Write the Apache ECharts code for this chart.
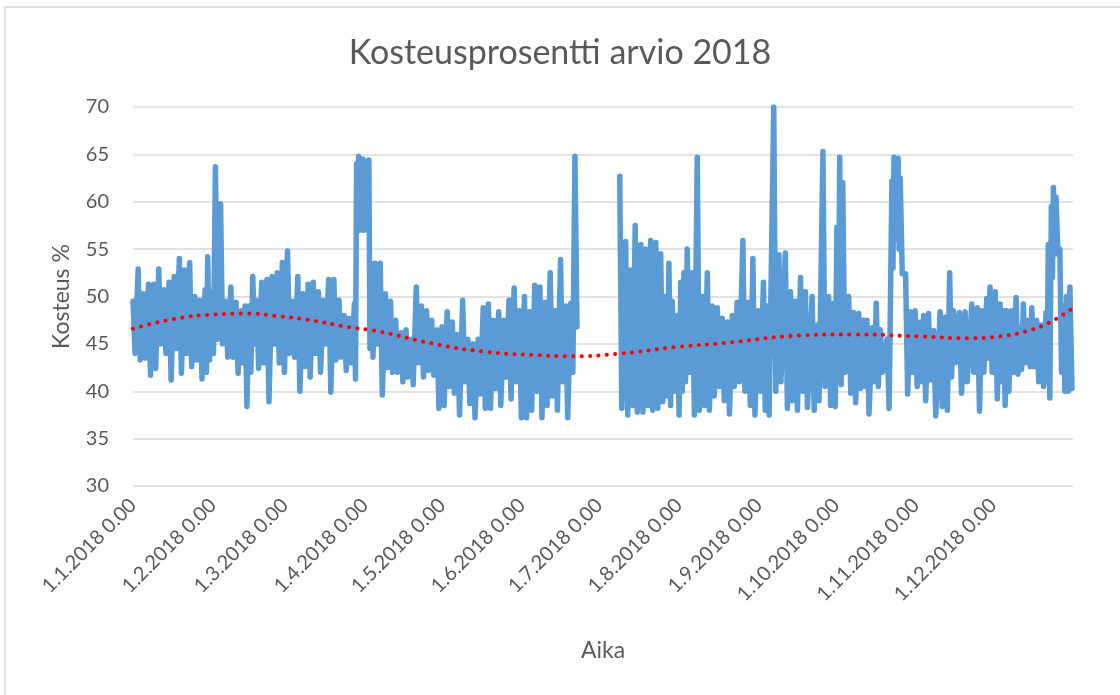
<!DOCTYPE html>
<html><head><meta charset="utf-8">
<script src="https://cdn.jsdelivr.net/npm/echarts@6/dist/echarts.min.js"></script>
<style>html,body{margin:0;padding:0;background:#fff}#c{width:1120px;height:695px}</style>
</head><body><div id="c"></div>
<script>
const chartTitle = 'Kosteusprosentti arvio 2018';
const xName = 'Aika';
const yName = 'Kosteus %';
const monthStartDays = [0,31,59,90,120,151,181,212,243,273,304,334];
const monthLabels = ['1.1.2018 0.00','1.2.2018 0.00','1.3.2018 0.00','1.4.2018 0.00','1.5.2018 0.00','1.6.2018 0.00','1.7.2018 0.00','1.8.2018 0.00','1.9.2018 0.00','1.10.2018 0.00','1.11.2018 0.00','1.12.2018 0.00'];

// Day of year (0 = 1.1.2018) with the high and low of the humidity band around it
const sampleDays = [
 0,2,4,6,8,10,12,14,16,18, 20,22,24,26,28,29,30.5,32,34,36, 38,40,42,43.5,45,46.5,48,50,52,54, 56,58,60,62,64,66,68,70,72,74, 76,78,80,82,84,86,86.8,87.6,88.4,89.2, 90,90.8,91.6,92.4,94,96,98,100,
 102,104,106,108,110,112,114,116,118,120, 122,124,126,128,130,132,134,136,138,140, 142,144,146,148,150,152,154,156,158,160, 162,164,166,168,170,171.6,
 189,191.3,193.3,195,197.2,199.1,201,203,204.9,206.9, 208.1,209.4,211.4,212.7,213.9,215.2,217.2,219.1,221.1,223, 224.9,226.9,228.8,230.8,232.7,234.6,236.8,238.9,240.7,242.8, 244.8,246.2,248.8,250.8,253.3,255.3,257.2,259.2,261.1,263.7, 265.6,267.9,270.1,
 272.1,273.3,274.4,275.6,277.9,279.8,281.8,283.7,285,287, 288.6,290.2,292.8,294.7,295.5,296.3,297.1,297.9,300,301.8, 303.7,305.7,307,308.9,310.9,313.4,315.4,317.1,318.6,320.9, 323.1,325.7,327.9,329.6,331.5,332.8,334.8,336.7,338,339.3, 341.2,342.9,344.4,345.7,347.7,349,350.9,352.8,354.5,355.4, 356.6,357.4,358.4,359.9,361.2,362.5,363.8
];
const sampleHigh = [
 49.5,52.9,50.3,51.3,51.3,52.9,50.7,51.5,52.1,54, 52.8,53.6,50,49.6,50.7,54.2,50.5,63.7,59.8,49.5, 51,49.4,48.5,49,49,52.1,49.6,51.5,51.8,52.1, 52.5,53.6,54.8,49.5,52.1,50.3,51.3,51.5,50.5,49.6, 51.8,51.8,49.6,48,47.7,49.3,64,64.8,64.2,64.5, 64,64.3,64.4,53.5,53.5,53.5,50.3,49.5,
 47.5,46.2,46.5,45.5,51,49,48.5,47.5,46.5,46.8, 48.4,47.3,46,49.6,45.5,45,45.5,48.8,49.2,47.5, 48.4,47.5,49.6,50.9,48.5,50,48.4,51.2,51,49.4, 52.5,48.5,53.9,49,49.3,64.8,
 62.7,55.8,52.8,57.5,55.5,55,55.9,55.7,54.5,50, 53.5,49.5,48,51.5,52.5,55,52.5,64.7,50,52.5, 49,48.8,47.7,47.3,48,49.4,55.9,49.4,54,48.5, 51.5,49,70,54.4,54.6,50.5,49.5,52,50.5,50, 47,65.3,50,
 49.3,57.3,64.7,62,50,48.3,48.2,47.5,47.5,46.7, 49.3,46.5,45.5,62.2,64.7,64.5,64.6,62.5,52.4,48.4, 48.5,47.3,48,48.2,46.4,48.4,47.8,52.5,48.5,48.3, 48.4,49.2,48.8,48.5,49.8,51,50.5,49.2,48.5,48.5, 48.5,49.9,46.7,49.2,47.5,48.8,47.5,47,48.3,55.5, 59.5,61.5,60.5,55,49,50,51
];
const sampleLow = [
 44,43.3,43.5,41.7,42.4,45,44,41.2,44.5,41.9, 44,42.6,43.3,41.3,42,43.3,44,45.5,45,43.6, 43.6,41.9,43,38.4,42,45,42.4,43,38.9,45, 43,42,44,43.6,40,42.6,41.5,44,42,45, 39.9,43.3,43.6,42.2,43,41.3,57.5,57,57.5,57, 57.3,57,44.5,43.6,45,39.6,42.5,42,
 42,41,41.5,40.7,43,41.5,42.2,41.7,38.2,38.5, 40.5,39.8,37.5,41,38.7,37.2,39.7,38.2,38.2,40.3, 38.5,41.5,39.2,41,37.2,37.2,38,40,37.2,38.5, 39.5,38,41,37.2,42,46.8,
 38.2,37.5,38.5,37.8,37.8,38.5,38,38.2,38.9,39.5, 38.5,40,37.5,40,41,42,37.5,38,38.5,38, 39.5,40.5,39,37.6,40.5,41,40,38.5,37.5,40, 38,37.5,40,41,38.2,39,38,40,38.3,38, 39,40.5,38.5,
 38.4,41,40.7,42,39.8,38.8,40.3,40.5,37.6,41, 40.5,42,38.2,53,56,57,55,52.4,39.7,42, 40.5,41,39,41.2,37.4,38.4,38,41.5,43,39.8, 41,42,37.9,42,43.5,42,39.2,41,38.5,40, 42,41.8,42.3,43,42.6,42.6,41,40.5,41,39.3, 52,54.5,54.5,42,40,40,40.3
];

// Polynomial trend line
const trendDays = [0,15.5,31.8,44,57,70,83,95.7,116,135.7,157.7,170.7,190,212,230,260,279,305,324,337,346.4,355.4,364];
const trendValues = [46.6,47.6,48.1,48.2,47.9,47.45,46.8,46.3,45.05,44.2,43.8,43.7,44.0,44.7,45.1,45.9,46.0,45.8,45.6,45.8,46.3,47.2,48.6];

const moisture = [];
for (let i = 0; i < sampleDays.length; i++) {
  const d = sampleDays[i];
  const next = i + 1 < sampleDays.length ? sampleDays[i + 1] : d + 1.6;
  const gap = next - d;
  moisture.push([d, sampleHigh[i]]);
  moisture.push([d + Math.min(gap / 2, 0.8), sampleLow[i]]);
  if (gap > 10) moisture.push([d + gap / 2, '-']);
}
const trend = trendDays.map((d, i) => [d, trendValues[i]]);

const txt = '#595959';
const chart = echarts.init(document.getElementById('c'), null, {renderer: 'canvas'});
chart.setOption({
  animation: false,
  backgroundColor: '#fff',
  textStyle: {fontFamily: 'Lato'},
  title: {text: chartTitle, left: 'center', top: 31,
    textStyle: {fontSize: 34, fontWeight: 'normal', color: txt, fontFamily: 'Lato'}},
  grid: {left: 133, right: 47, top: 107, bottom: 209, containLabel: false},
  xAxis: {
    type: 'value', min: 0, max: 365,
    axisLine: {show: false}, axisTick: {show: false}, splitLine: {show: false},
    axisLabel: {customValues: monthStartDays, rotate: 45, margin: 16, fontSize: 20, color: txt,
      formatter: v => monthLabels[monthStartDays.indexOf(v)] || ''},
    name: xName, nameLocation: 'middle', nameGap: 153,
    nameTextStyle: {fontSize: 23, color: txt}
  },
  yAxis: {
    type: 'value', min: 30, max: 70, interval: 5,
    axisLine: {show: false}, axisTick: {show: false},
    splitLine: {lineStyle: {color: '#d9d9d9', width: 1.5}},
    axisLabel: {fontSize: 20, color: txt, margin: 24},
    name: yName, nameLocation: 'middle', nameGap: 60,
    nameTextStyle: {fontSize: 23, color: txt}
  },
  series: [
    {type: 'line', data: moisture, symbol: 'none', connectNulls: false, z: 2,
      lineStyle: {color: '#5B9BD5', width: 5.5, join: 'round', cap: 'round'}},
    {type: 'line', data: trend, smooth: true, symbol: 'none', z: 3,
      lineStyle: {color: '#FF0000', width: 4, type: [0.1, 8.3], cap: 'round'}}
  ],
  graphic: [{type: 'polyline', shape: {points: [[5, 695], [5, 7], [1120, 7]]},
    style: {stroke: '#d9d9d9', fill: null, lineWidth: 1.5}}]
});
</script></body></html>
